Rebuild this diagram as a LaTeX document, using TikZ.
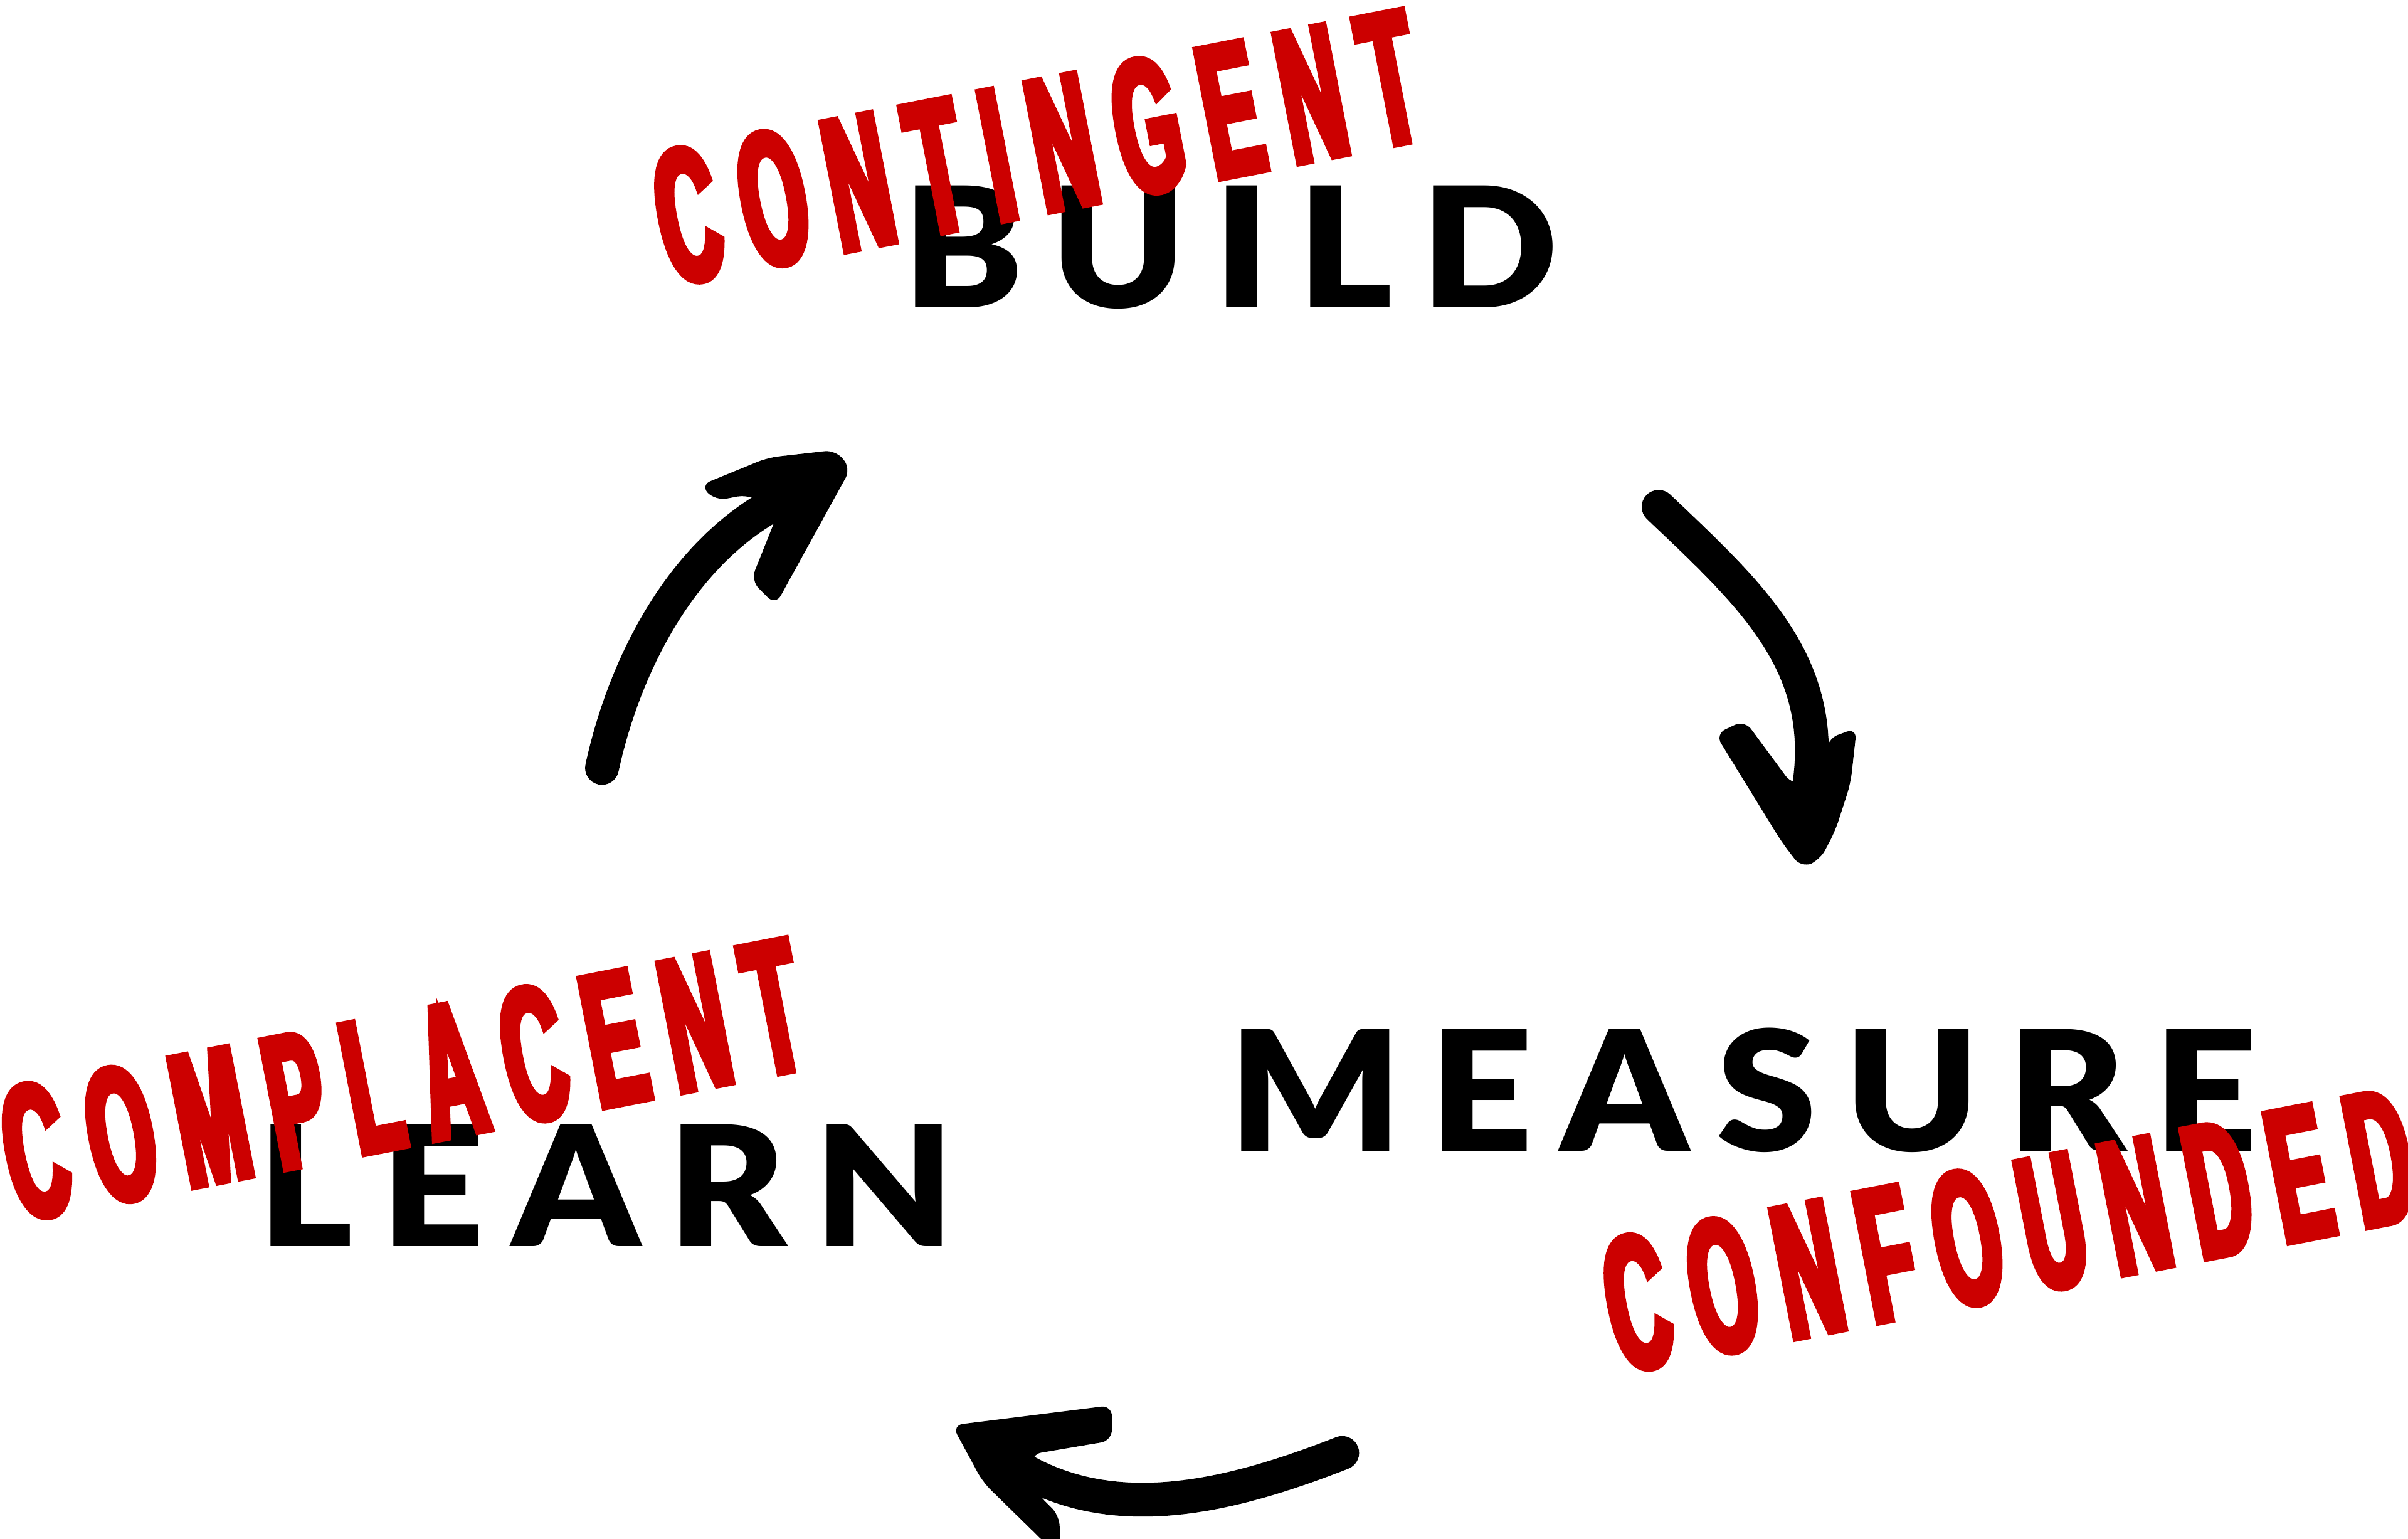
\documentclass[tikz,border=0pt]{standalone}
\usepackage{fontspec}
\usepackage{xcolor}
\usetikzlibrary{arrows.meta,positioning}
\newfontfamily\stagefont[UprightFont=* Black,FakeStretch=1.08,LetterSpace=16.5]{Lato}
\newfontfamily\stampfont[UprightFont=* Bold,FakeStretch=0.44,FakeBold=4,LetterSpace=13]{Liberation Sans}
\definecolor{stampred}{HTML}{CC0000}

\begin{document}
\begin{tikzpicture}[
  stage/.style={inner sep=0pt, font=\stagefont\fontsize{31}{31}\selectfont, text=black},
  stamp/.style={inner sep=0pt, rotate=11, font=\stampfont\fontsize{35}{35}\selectfont, text=stampred},
  shaft/.style={line width=0.22cm, line cap=round, black},
  barb/.style={fill=black, rounded corners=2pt},
]
  \useasboundingbox (0,0) rectangle (15.68,10.02);

  % Cycle stages
  \node[stage] (build) at (8.01, 8.41) {BUILD};
  \node[stage] (measure) at (11.35, 2.92) {MEASURE};
  \node[stage] (learn) at (3.95, 2.30) {LEARN};

  % Arrows between the stages
  \coordinate (a1) at (10.80, 6.72);
  \coordinate (a2) at (11.78, 4.90);
  \coordinate (b1) at (8.74, 0.56);
  \coordinate (b2) at (6.55, 0.52);
  \coordinate (c1) at (3.92, 5.02);
  \coordinate (c2) at (5.10, 6.77);

  \draw[shaft] (a1) .. controls (11.40, 6.15) and (11.90, 5.70) .. (a2);
  \fill[barb] (11.17,5.24) -- (11.36,5.33) -- (11.67,4.91) -- (11.88,4.95) -- (11.90,5.21) -- (12.09,5.28)
    -- (12.05,4.92) -- (11.95,4.61) -- (11.85,4.42) -- (11.73,4.37) -- (11.60,4.54) -- cycle;

  \draw[shaft] (b1) .. controls (8.00, 0.27) and (7.20, 0.07) .. (b2);
  \fill[barb] (6.20,0.74) -- (7.24,0.87) -- (7.24,0.64) -- (6.71,0.55) -- (6.75,0.30) -- (6.90,0.15)
    -- (6.90,-0.10) -- (6.88,-0.10) -- (6.40,0.37) -- cycle;

  \draw[shaft] (c1) .. controls (4.05, 5.62) and (4.40, 6.42) .. (c2);
  \fill[barb] (4.56,6.86) -- (5.00,7.04) -- (5.44,7.09) -- (5.54,6.97) -- (5.05,6.08) -- (4.89,6.24)
    -- (5.07,6.69) -- (4.87,6.80) -- (4.66,6.76) -- cycle;

  % Stamps on top
  \node[stamp] (contingent) at (6.75, 9.06) {CONTINGENT};
  \node[stamp] (confounded) at (13.08, 2.01) {CONFOUNDED};
  \node[stamp] (complacent) at (2.62, 2.99) {COMPLACENT};
\end{tikzpicture}
\end{document}
